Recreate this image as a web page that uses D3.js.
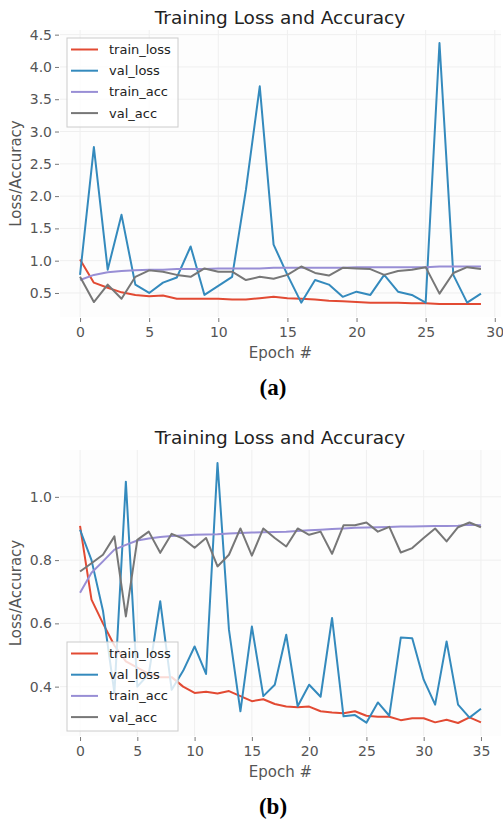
<!DOCTYPE html>
<html>
<head>
<meta charset="utf-8">
<script src="https://cdn.jsdelivr.net/npm/d3@7"></script>
<style>
  body { margin: 0; background: #fff; }
  svg text { font-family: "DejaVu Sans", sans-serif; }
</style>
</head>
<body>
<div id="chart"></div>
<script>
// (a) 30 epochs
var trainLossA = [1.02,0.66,0.58,0.51,0.47,0.45,0.46,0.41,0.41,0.41,0.41,0.40,0.40,0.42,0.44,0.42,0.41,0.40,0.38,0.37,0.36,0.35,0.35,0.35,0.34,0.34,0.33,0.33,0.33,0.33];
var valLossA   = [0.78,2.76,0.86,1.71,0.63,0.50,0.66,0.74,1.22,0.47,0.61,0.75,2.10,3.70,1.25,0.78,0.35,0.70,0.63,0.44,0.52,0.47,0.78,0.52,0.47,0.35,4.37,0.78,0.35,0.49];
var trainAccA  = [0.70,0.78,0.82,0.84,0.85,0.86,0.86,0.87,0.87,0.87,0.88,0.88,0.88,0.88,0.89,0.89,0.89,0.89,0.89,0.89,0.90,0.90,0.90,0.90,0.90,0.90,0.91,0.91,0.91,0.91];
var valAccA    = [0.75,0.36,0.63,0.41,0.75,0.85,0.83,0.78,0.75,0.88,0.83,0.83,0.70,0.75,0.72,0.78,0.91,0.81,0.77,0.89,0.88,0.87,0.78,0.84,0.86,0.90,0.49,0.81,0.90,0.87];
var xTicksA = [0,5,10,15,20,25,30];
var yTicksA = [0.5,1.0,1.5,2.0,2.5,3.0,3.5,4.0,4.5];

// (b) 36 epochs
var trainLossB = [0.908,0.675,0.60,0.53,0.48,0.46,0.44,0.43,0.43,0.40,0.38,0.384,0.378,0.386,0.37,0.354,0.36,0.345,0.337,0.335,0.337,0.322,0.318,0.316,0.322,0.308,0.305,0.305,0.294,0.30,0.30,0.287,0.295,0.285,0.303,0.287];
var valLossB   = [0.896,0.80,0.64,0.38,1.048,0.40,0.44,0.67,0.39,0.45,0.527,0.44,1.107,0.58,0.322,0.59,0.37,0.406,0.564,0.338,0.406,0.368,0.617,0.306,0.31,0.286,0.35,0.308,0.555,0.553,0.422,0.343,0.543,0.343,0.302,0.33];
var trainAccB  = [0.697,0.76,0.796,0.833,0.848,0.862,0.868,0.873,0.876,0.878,0.88,0.881,0.882,0.884,0.886,0.887,0.888,0.889,0.89,0.892,0.894,0.896,0.898,0.90,0.902,0.903,0.904,0.905,0.906,0.906,0.907,0.908,0.908,0.909,0.912,0.91];
var valAccB    = [0.764,0.79,0.817,0.875,0.622,0.864,0.89,0.823,0.883,0.868,0.839,0.87,0.78,0.817,0.90,0.814,0.90,0.87,0.843,0.90,0.88,0.89,0.82,0.91,0.91,0.919,0.89,0.905,0.824,0.838,0.87,0.90,0.859,0.904,0.919,0.904];
var xTicksB = [0,5,10,15,20,25,30,35];
var yTicksB = [0.4,0.6,0.8,1.0];

var seriesNames = ['train_loss','val_loss','train_acc','val_acc'];
var colors = ['#E24A33','#348ABD','#988ED5','#777777'];

const width = 503, height = 823;

var svg = d3.select('#chart')
    .append('svg')
    .attr('width', width)
    .attr('height', height);

drawPanel({
    top: 0, series: [trainLossA, valLossA, trainAccA, valAccA],
    xTicks: xTicksA, yTicks: yTicksA, fmt: d3.format('.1f'),
    plotTop: 30, plotBottom: 317, legendY: 38, tag: '(a)'
});
drawPanel({
    top: 420, series: [trainLossB, valLossB, trainAccB, valAccB],
    xTicks: xTicksB, yTicks: yTicksB, fmt: d3.format('.1f'),
    plotTop: 30, plotBottom: 316, legendY: 222, tag: '(b)'
});

function drawPanel(p) {
    var g = svg.append('g').attr('transform', 'translate(0,' + p.top + ')');
    var left = 60, right = 501;
    var n = p.series[0].length;

    // matplotlib style 5% padding
    var all = d3.merge(p.series);
    var lo = d3.min(all), hi = d3.max(all);
    var pad = (hi - lo) * 0.05;
    var xpad = (n - 1) * 0.05;

    var x = d3.scaleLinear().domain([-xpad, n - 1 + xpad]).range([left, right]);
    var y = d3.scaleLinear().domain([lo - pad, hi + pad]).range([p.plotBottom, p.plotTop]);

    g.append('rect')
        .attr('x', left).attr('y', p.plotTop)
        .attr('width', right - left).attr('height', p.plotBottom - p.plotTop)
        .attr('fill', '#fdfdfd');

    // grid
    g.selectAll('.gx').data(p.xTicks).enter().append('line')
        .attr('x1', d => x(d)).attr('x2', d => x(d))
        .attr('y1', p.plotTop).attr('y2', p.plotBottom)
        .attr('stroke', '#efefef').attr('stroke-width', 1);
    g.selectAll('.gy').data(p.yTicks).enter().append('line')
        .attr('x1', left).attr('x2', right)
        .attr('y1', d => y(d)).attr('y2', d => y(d))
        .attr('stroke', '#efefef').attr('stroke-width', 1);

    // axes
    var xAxis = d3.axisBottom(x).tickValues(p.xTicks).tickSize(4).tickPadding(5);
    var yAxis = d3.axisLeft(y).tickValues(p.yTicks).tickFormat(p.fmt).tickSize(4).tickPadding(3);

    var gx = g.append('g').attr('transform', 'translate(0,' + (p.plotBottom + 1) + ')').call(xAxis);
    var gy = g.append('g').attr('transform', 'translate(' + (left - 1) + ',0)').call(yAxis);
    [gx, gy].forEach(function(a) {
        a.select('.domain').remove();
        a.selectAll('line').attr('stroke', '#777');
        a.selectAll('text').attr('fill', '#555').attr('font-size', 14)
            .style('font-family', 'DejaVu Sans');
    });

    // lines
    var line = d3.line().x((d, i) => x(i)).y(d => y(d));
    g.selectAll('.series').data(p.series).enter().append('path')
        .attr('d', d => line(d))
        .attr('fill', 'none')
        .attr('stroke', (d, i) => colors[i])
        .attr('stroke-width', 2)
        .attr('stroke-linejoin', 'round');

    // title and labels
    g.append('text').text('Training Loss and Accuracy')
        .attr('x', 280).attr('y', 24)
        .attr('text-anchor', 'middle').attr('font-size', 18.5).attr('fill', '#222');
    g.append('text').text('Epoch #')
        .attr('x', (left + right) / 2).attr('y', p.plotBottom + 41)
        .attr('text-anchor', 'middle').attr('font-size', 15).attr('fill', '#555');
    g.append('text').text('Loss/Accuracy')
        .attr('transform', 'translate(21,' + ((p.plotTop + p.plotBottom) / 2) + ') rotate(-90)')
        .attr('text-anchor', 'middle').attr('font-size', 15).attr('fill', '#555');
    g.append('text').text(p.tag)
        .attr('x', 273).attr('y', p.plotBottom + 78)
        .attr('text-anchor', 'middle').attr('font-size', 23)
        .attr('font-weight', 'bold').style('font-family', '"Liberation Serif", serif').attr('fill', '#000');

    // legend
    var lg = g.append('g').attr('transform', 'translate(67,' + p.legendY + ')');
    lg.append('rect').attr('width', 111).attr('height', 89)
        .attr('fill', 'rgba(255,255,255,0.8)').attr('stroke', '#ccc').attr('stroke-width', 1);
    seriesNames.forEach(function(name, i) {
        var yy = 11.5 + i * 21.2;
        lg.append('line').attr('x1', 4).attr('x2', 31).attr('y1', yy).attr('y2', yy)
            .attr('stroke', colors[i]).attr('stroke-width', 2);
        lg.append('text').text(name).attr('x', 42).attr('y', yy + 4.5)
            .attr('font-size', 13).attr('fill', '#222');
    });
}
</script>
</body>
</html>
